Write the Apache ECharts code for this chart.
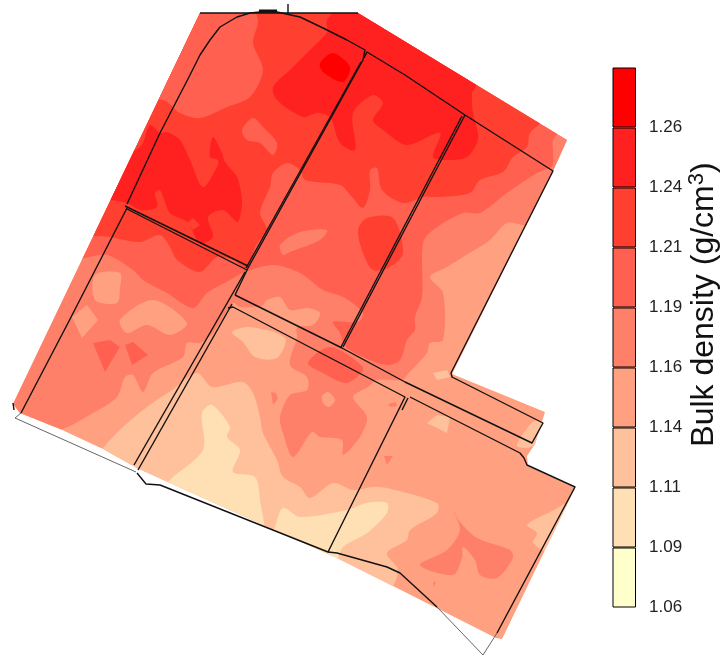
<!DOCTYPE html>
<html>
<head>
<meta charset="utf-8">
<style>html,body{margin:0;padding:0;background:#fff}#c{width:723px;height:656px}</style>
<script src="https://cdn.jsdelivr.net/npm/echarts@6/dist/echarts.min.js"></script>
</head>
<body>
<div id="c"></div>
<script>
// Colour scale: class edges (bottom to top) and class colours
const tickLabels = ['1.06','1.09','1.11','1.14','1.16','1.19','1.21','1.24','1.26'];
const classColors = ['#FFFFCC','#FFE0B4','#FFC09C','#FFA080','#FF8068','#FF6050','#FF4030','#FF2020','#FF0000'];
const classHeights = [1,1,1,1,1,1,1,1,1];

// Map extent of the sampled surface
const fieldShape = [[200,13],[358,13],[567,140],[553,171],[452,374],[545,412],[535,444],[527,456],[528,466],[575,488],[502,639],[496,638],[387,583],[337,558],[170,483],[137,468],[103,449],[60,429],[20,413],[13,404]];

// Contours, one list per class
const zone114Base = [[0,0],[723,0],[723,656],[0,656]];
const zone111 = [
  [[95,460],[103,448],[123,427],[147,407],[172,390],[197,373],[212,387],[243,382],[253,393],[260,417],[263,433],[277,460],[283,477],[300,487],[310,498],[333,483],[353,490],[373,487],[387,488],[437,503],[437,513],[410,530],[407,540],[387,553],[398,570],[388,590],[330,570],[170,500],[100,470]],
  [[232,332],[250,327],[285,338],[277,358],[255,357],[243,342]],
  [[427,423],[437,415],[450,417],[447,433]],
  [[527,525],[550,512],[585,495],[570,530],[553,553],[533,543],[537,533]],
  [[517,446],[528,427],[537,420],[545,425],[533,446]],
  [[433,373],[447,370],[450,377],[437,380]]
];
const zone109 = [
  [[165,490],[170,480],[203,450],[202,413],[212,405],[230,427],[227,437],[240,450],[233,472],[255,477],[260,500],[262,535],[200,510]],
  [[272,540],[275,527],[283,508],[300,517],[347,510],[367,503],[387,503],[387,513],[367,533],[343,547],[333,565],[300,552]]
];
const zone116 = [
  [[0,440],[60,430],[93,413],[117,397],[125,377],[133,375],[143,392],[153,373],[183,357],[187,343],[200,343],[213,333],[233,303],[240,307],[262,306],[267,300],[280,297],[290,310],[307,308],[320,313],[313,325],[297,327],[297,337],[290,365],[307,377],[307,390],[290,395],[280,417],[283,433],[293,457],[312,432],[320,437],[342,440],[343,455],[360,437],[367,417],[353,397],[368,387],[377,380],[403,380],[407,375],[427,353],[430,343],[443,340],[443,293],[430,277],[447,267],[463,257],[490,240],[507,223],[523,225],[560,228],[620,130],[360,-20],[180,-20]],
  [[453,510],[460,522],[477,538],[510,550],[513,558],[497,578],[480,575],[475,560],[463,547],[462,558],[453,575],[420,565],[447,550],[460,530]],
  [[433,583],[436,581],[434,587]]
];
const zone114Islands = [
  [[95,275],[120,273],[120,288],[117,303],[95,300]],
  [[72,317],[87,305],[98,320],[82,338]],
  [[120,320],[153,300],[187,323],[170,335],[147,325],[127,333]],
  [[322,396],[328,392],[335,400],[329,407],[323,403]]
];
const zone119 = [
  [[60,262],[85,258],[107,255],[133,270],[143,280],[167,293],[193,308],[207,293],[230,280],[245,272],[273,265],[300,273],[323,290],[343,297],[363,313],[358,322],[333,322],[340,333],[345,346],[363,357],[387,365],[400,360],[407,340],[415,330],[415,317],[422,297],[423,243],[433,230],[463,213],[480,213],[507,193],[537,173],[552,166],[553,153],[553,140],[560,128],[520,60],[360,-20],[180,-20],[40,230]],
  [[308,363],[330,347],[363,367],[357,377],[345,383],[323,373]],
  [[93,343],[110,340],[120,347],[105,372]],
  [[125,345],[133,342],[148,355],[132,365]]
];
const zone116Islands = [
  [[280,245],[300,232],[327,230],[320,240],[290,252],[283,255]],
  [[271,392],[276,393],[278,399],[273,405]],
  [[384,456],[393,456],[387,465]],
  [[388,404],[396,402],[397,406],[390,407]]
];
const zone121 = [
  [[85,232],[110,237],[140,242],[160,235],[170,247],[177,260],[200,272],[217,257],[233,260],[247,268],[256,245],[267,230],[260,213],[270,187],[273,173],[287,163],[300,170],[305,180],[340,185],[352,197],[363,208],[370,190],[370,170],[377,168],[382,190],[403,203],[423,197],[440,197],[470,193],[480,180],[503,172],[513,157],[527,147],[530,133],[545,118],[560,70],[360,-20],[180,-20],[100,120]],
  [[358,230],[367,218],[393,218],[403,253],[390,267],[373,270],[363,253]]
];
const zone119Islands = [
  [[130,104],[163,100],[180,113],[200,118],[227,107],[250,97],[263,70],[253,43],[258,20],[247,2],[170,-5],[120,60]],
  [[242,130],[253,118],[263,127],[277,143],[273,155],[260,143],[247,140]]
];
const zone124 = [
  [[273,87],[290,70],[313,47],[327,32],[327,20],[340,8],[365,2],[480,70],[475,88],[472,93],[473,113],[478,133],[477,143],[467,157],[447,160],[433,157],[440,133],[407,145],[383,130],[373,120],[383,103],[373,95],[353,113],[355,150],[340,143],[330,117],[317,113],[303,117],[277,100]],
  [[100,165],[140,147],[150,125],[160,133],[167,132],[180,140],[190,160],[203,187],[217,167],[218,160],[210,157],[213,137],[222,153],[225,162],[237,177],[242,200],[240,217],[237,222],[223,210],[208,217],[213,237],[200,243],[187,222],[170,213],[160,190],[155,193],[157,207],[140,210],[127,203],[110,200],[85,200]]
];
const zone121Islands = [
  [[187,223],[193,218],[200,225],[193,230]]
];
const zone126 = [
  [[320,63],[333,53],[350,67],[343,82],[323,72]]
];

// Painter's order: [class index, polygons]
const layers = [
  [3,[zone114Base]],[2,zone111],[1,zone109],[4,zone116],[3,zone114Islands],[5,zone119],
  [4,zone116Islands],[6,zone121],[5,zone119Islands],[7,zone124],[6,zone121Islands],[8,zone126]
];

// Field boundaries
const lineTop = [[200,13],[358,13]];
const lineTopMark = [[259,11],[277,11]];
const lineTopTick = [[288,4],[288,13]];
const lineCorner = [[13,403],[14,410]];
const fieldNW = [[127,204],[160,133],[190,75],[200,55],[210,40],[220,27],[237,17],[250,13],[260,12],[277,12],[300,17],[323,28],[347,40],[365,50],[363,60],[248,268]];
const fieldNWEdge2 = [[361,62],[246,268]];
const fieldNWSouth = [[125,206],[248,266]];
const fieldNWSouth2 = [[127,209],[247,270]];
const fieldW = [[127,208],[68,323],[21,413]];
const fieldWThin = [[21,413],[15,418],[136,472]];
const stripN = [[235,295],[342,348],[405,382],[532,443],[543,423],[452,377],[451,373],[553,171],[465,115],[405,75],[367,52],[364,58]];
const fieldNESep = [[465,115],[343,347]];
const fieldNESep2 = [[462,116],[341,347]];
const junction = [[248,268],[235,295]];
const westEast1 = [[245,272],[134,465]];
const westEast2 = [[232,304],[138,470]];
const fieldS = [[228,308],[233,307],[405,397],[328,552],[160,485],[146,484],[137,473]];
const fieldSE2 = [[408,398],[402,410]];
const fieldSE = [[410,397],[520,453],[524,458],[527,465],[575,487],[497,633]];
const fieldSBottom = [[328,552],[337,553],[387,567],[400,573],[437,607]];
const fieldSEThin = [[437,607],[483,655],[497,633]];

const blackLines = [lineTop,lineTopTick,lineCorner,fieldNW,fieldNWEdge2,fieldNWSouth,fieldNWSouth2,fieldW,stripN,fieldNESep,fieldNESep2,junction,westEast1,westEast2,fieldS,fieldSE2,fieldSE,fieldSBottom];
const thinLines = [fieldWThin,fieldSEThin];

const mapAxisX = {gridIndex:0,type:'value',min:0,max:723,show:false};
const mapAxisY = {gridIndex:0,type:'value',min:0,max:656,inverse:true,show:false};

function polySeries(colorIdx, polys, z){
  return {
    type:'custom', xAxisIndex:0, yAxisIndex:0, coordinateSystem:'cartesian2d', z:z, silent:true, clip:false,
    data: polys.map((p,i)=>[i]),
    renderItem:(params,api)=>{
      const pts = polys[api.value(0)].map(q=>api.coord(q));
      return {
        type:'polygon',
        shape:{points:pts, smooth:polys[api.value(0)].length>4?0.3:0},
        style:{fill:classColors[colorIdx], stroke:null},
        clipPath:{type:'polygon', shape:{points:fieldShape.map(q=>api.coord(q))}}
      };
    }
  };
}
function lineSeries(lines, color, width, z){
  return {
    type:'custom', xAxisIndex:0, yAxisIndex:0, coordinateSystem:'cartesian2d', z:z, silent:true, clip:false,
    data: lines.map((p,i)=>[i]),
    renderItem:(params,api)=>({
      type:'polyline',
      shape:{points:lines[api.value(0)].map(q=>api.coord(q))},
      style:{fill:null, stroke:color, lineWidth:width, lineJoin:'round'}
    })
  };
}

const mapSeries = layers.map((l,i)=>polySeries(l[0],l[1],2+i));
const barSeries = classColors.map((c,i)=>({
  type:'bar', xAxisIndex:1, yAxisIndex:1, stack:'scale', barWidth:'100%', silent:true,
  data:[classHeights[i]],
  itemStyle:{color:c, borderColor:'#000', borderWidth:1}
}));

const option = {
  animation:false,
  backgroundColor:'#fff',
  grid:[
    {left:0,top:0,width:723,height:656},
    {left:612.5,top:67.5,width:33,height:540}
  ],
  xAxis:[mapAxisX,{gridIndex:1,type:'category',data:[''],show:false}],
  yAxis:[mapAxisY,{
    gridIndex:1,type:'value',min:0,max:9,interval:1,position:'right',
    axisLine:{show:false},axisTick:{show:false},splitLine:{show:false},
    axisLabel:{show:true,margin:13,align:'left',fontFamily:'Liberation Sans',fontSize:17,color:'#222',
      formatter:v=>tickLabels[v]||''},
    name:'{a|Bulk density (g/cm}{b|3}{a|)}',
    nameLocation:'middle',nameRotate:90,nameGap:48,
    nameTextStyle:{padding:[0,0,0,66],rich:{
      a:{fontFamily:'Liberation Sans',fontSize:32,color:'#111',lineHeight:38},
      b:{fontFamily:'Liberation Sans',fontSize:22,color:'#111',lineHeight:38,padding:[0,0,14,0]}
    }}
  }],
  series:[
    ...mapSeries,
    lineSeries(blackLines,'#111',1.4,30),
    lineSeries([lineTopMark],'#111',3,31),
    lineSeries(thinLines,'#555',0.9,30),
    ...barSeries
  ]
};
echarts.init(document.getElementById('c'),null,{renderer:'canvas'}).setOption(option);
</script>
</body>
</html>
